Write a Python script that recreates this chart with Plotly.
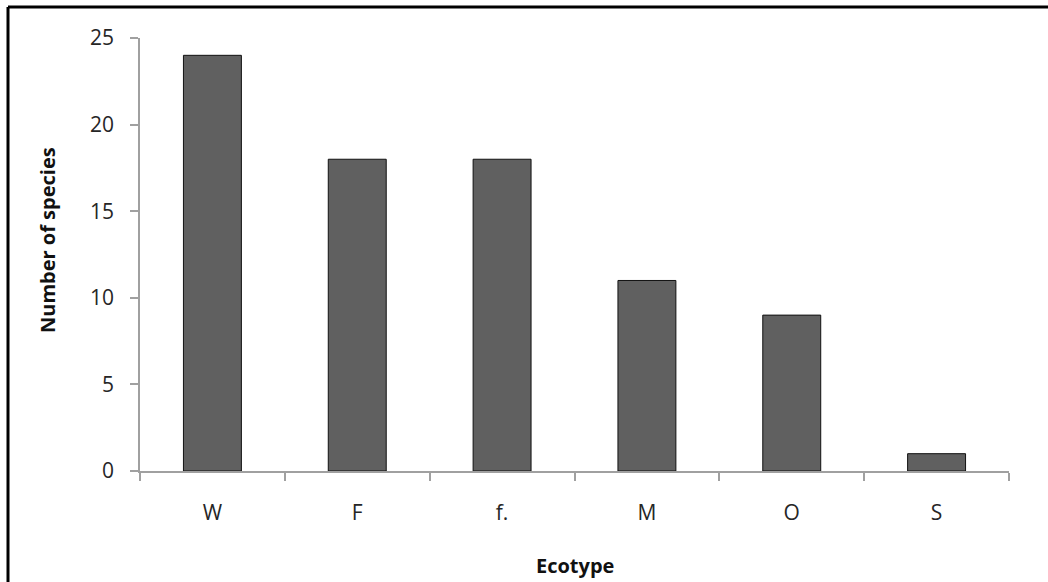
import plotly.graph_objects as go

categories = ["W", "F", "f.", "M", "O", "S"]
species_counts = [24, 18, 18, 11, 9, 1]
y_ticks = [0, 5, 10, 15, 20, 25]

W, H = 1048, 582
ML, MR, MT, MB = 140, 39, 38, 111
pw, ph = W - ML - MR, H - MT - MB

fig = go.Figure(go.Bar(
    x=categories, y=species_counts,
    marker=dict(color="#606060", line=dict(color="#111111", width=1)),
    width=0.4,
))

font = "Open Sans, Liberation Sans, sans-serif"
fig.update_layout(
    width=W, height=H,
    margin=dict(l=ML, r=MR, t=MT, b=MB),
    paper_bgcolor="white", plot_bgcolor="white",
    showlegend=False,
    font=dict(family=font, color="#262626", size=21),
    xaxis=dict(
        showline=True, linecolor="#a0a0a0", linewidth=1.5,
        ticks="outside", ticklen=8, tickcolor="#a0a0a0", tickwidth=1.5,
        tickson="boundaries", showgrid=False,
        tickfont=dict(size=21, color="#262626"),
        ticklabelstandoff=22,
        fixedrange=True,
    ),
    yaxis=dict(
        range=[0, 25], tickvals=y_ticks,
        showline=True, linecolor="#a0a0a0", linewidth=1.5,
        ticks="outside", ticklen=8, tickcolor="#a0a0a0", tickwidth=1.5,
        showgrid=False, zeroline=False,
        tickfont=dict(size=21, color="#262626"),
        ticklabelstandoff=12,
        fixedrange=True,
    ),
)

# axis titles as annotations (placed as in the reference)
fig.add_annotation(text="<b>Ecotype</b>", xref="paper", yref="paper",
                   x=0.5, y=(H - MB - 565) / ph, showarrow=False,
                   xanchor="center", yanchor="middle",
                   font=dict(size=20, color="#111111"))
fig.add_annotation(text="<b>Number of species</b>", xref="paper", yref="paper",
                   x=(47 - ML) / pw, y=(H - MB - 240) / ph, showarrow=False,
                   textangle=-90, xanchor="center", yanchor="middle",
                   font=dict(size=20, color="#111111"))

# outer frame (left and top edges visible in the reference)
x0 = (8 - ML) / pw
y0 = (H - MB - 7) / ph
fig.add_shape(type="line", xref="paper", yref="paper", x0=x0, y0=y0, x1=1.2, y1=y0,
              line=dict(color="black", width=3))
fig.add_shape(type="line", xref="paper", yref="paper", x0=x0, y0=y0, x1=x0, y1=-0.5,
              line=dict(color="black", width=3))

fig.write_html("out.html")
